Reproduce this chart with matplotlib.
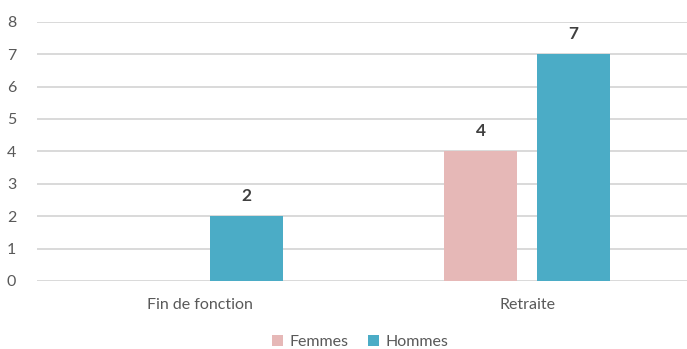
import matplotlib
matplotlib.use("Agg")
import matplotlib.pyplot as plt
import numpy as np

categories = ["Fin de fonction", "Retraite"]
femmes = [0, 4]
hommes = [2, 7]
series_names = ["Femmes", "Hommes"]
yticks = [0, 1, 2, 3, 4, 5, 6, 7, 8]

col_f = "#E6B8B7"
col_h = "#4BACC6"
txt_col = "#595959"

plt.rcParams["font.family"] = ["Lato", "DejaVu Sans"]

fig = plt.figure(figsize=(6.87, 3.49), dpi=100)
ax = fig.add_axes([37 / 687, 68 / 349, 1 - 37 / 687, (327.3 - 68) / 349])

x = np.arange(len(categories))
w = 0.223
off = 0.142
b1 = ax.bar(x - off, femmes, w, color=col_f, label=series_names[0], zorder=3)
b2 = ax.bar(x + off, hommes, w, color=col_h, label=series_names[1], zorder=3)

for bars, vals in ((b1, femmes), (b2, hommes)):
    for rect, v in zip(bars, vals):
        if v:
            ax.annotate(str(v), (rect.get_x() + rect.get_width() / 2, v),
                        xytext=(0, 9), textcoords="offset points",
                        ha="center", va="bottom", fontsize=12.5,
                        fontweight="bold", color="#404040")

ax.set_xlim(-0.4985, 1.489)
ax.set_ylim(0, 8)
ax.set_yticks(yticks)
ax.yaxis.grid(True, color="#D9D9D9", linewidth=1.4, zorder=0)
ax.set_axisbelow(True)
ax.set_xticks(x)
ax.set_xticklabels(categories)
ax.tick_params(axis="both", length=0, labelsize=11.5, labelcolor=txt_col)
ax.tick_params(axis="y", pad=15)
ax.tick_params(axis="x", pad=12)
for s in ax.spines.values():
    s.set_visible(False)

fig.legend(handles=[b1, b2], labels=series_names, loc="center",
           bbox_to_anchor=(360 / 687, 1 - 342 / 349), ncol=2, frameon=False,
           fontsize=11.5, labelcolor=txt_col, handlelength=0.7, handleheight=0.7,
           handletextpad=0.4, columnspacing=1.2)

fig.savefig("out.png", dpi=100)
